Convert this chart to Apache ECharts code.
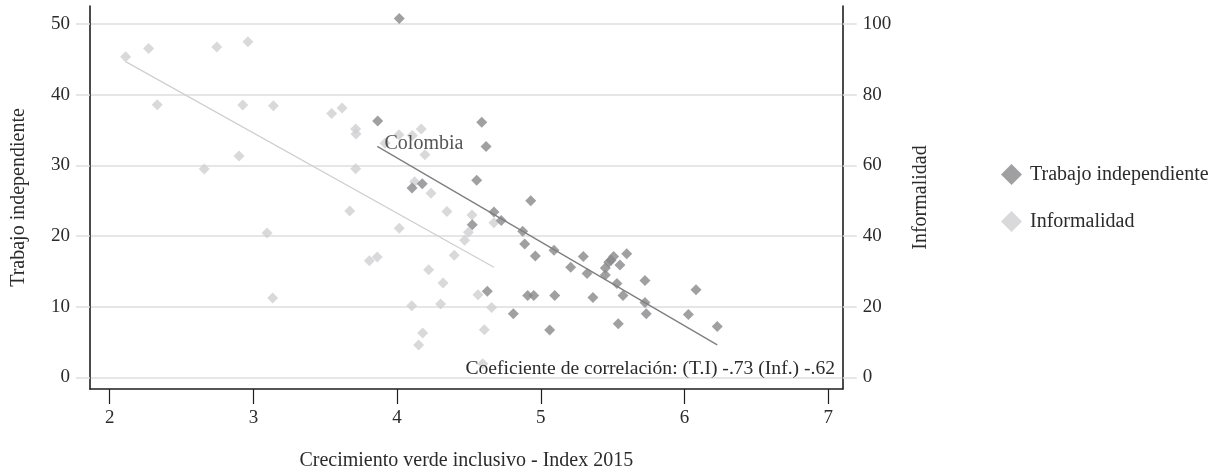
<!DOCTYPE html>
<html>
<head>
<meta charset="utf-8">
<script src="https://cdn.jsdelivr.net/npm/echarts@6/dist/echarts.min.js"></script>
<style>
  html, body { margin: 0; padding: 0; background: #fff; }
  #chart { width: 1232px; height: 476px; }
</style>
</head>
<body>
<div id="chart"></div>
<script>
// Índice de crecimiento verde inclusivo (x) frente a trabajo independiente e informalidad
const xTicks = [2, 3, 4, 5, 6, 7];
const leftTicks = [0, 10, 20, 30, 40, 50];
const rightTicks = [0, 20, 40, 60, 80, 100];

// Trabajo independiente: [índice, %]
const trabajoIndependiente = [
  [3.865, 36.3], [4.015, 50.8], [4.104, 26.8], [4.175, 27.4], [4.554, 27.9],
  [4.589, 36.1], [4.619, 32.7], [4.523, 21.6], [4.628, 12.2], [4.674, 23.4],
  [4.725, 22.2], [4.809, 9.0], [4.874, 20.7], [4.888, 18.9], [4.909, 11.6],
  [4.930, 25.0], [4.951, 11.6], [4.962, 17.2], [5.062, 6.7], [5.092, 18.0],
  [5.097, 11.6], [5.208, 15.6], [5.296, 17.1], [5.322, 14.7], [5.363, 11.3],
  [5.449, 15.5], [5.449, 14.5], [5.473, 16.3], [5.489, 16.6], [5.507, 17.1],
  [5.530, 13.3], [5.539, 7.6], [5.551, 15.9], [5.572, 11.6], [5.598, 17.5],
  [5.725, 13.7], [5.725, 10.6], [5.734, 9.0], [6.027, 8.9], [6.080, 12.4],
  [6.228, 7.2]
];

// Informalidad: [índice, %]
const informalidad = [
  [2.111, 90.8], [2.271, 93.1], [2.745, 93.5], [2.962, 95.0], [2.331, 77.2],
  [2.926, 77.1], [3.139, 76.9], [3.545, 74.7], [3.617, 76.3], [3.712, 70.3],
  [3.714, 68.9], [2.900, 62.7], [2.658, 59.0], [3.712, 59.1], [3.670, 47.1],
  [3.095, 40.9], [3.807, 33.0], [3.862, 34.1], [3.134, 22.5], [4.013, 68.7],
  [4.106, 68.5], [4.168, 70.3], [4.194, 63.0], [4.122, 55.4], [4.236, 52.1],
  [4.347, 47.0], [4.521, 46.0], [4.496, 41.1], [4.470, 38.8], [4.674, 43.8],
  [4.015, 42.2], [4.398, 34.6], [4.220, 30.5], [4.320, 26.7], [4.102, 20.3],
  [4.303, 20.8], [4.563, 23.4], [4.658, 19.8], [4.178, 12.6], [4.150, 9.2],
  [4.607, 13.5], [4.596, 3.9]
];

// Punto etiquetado
const colombiaName = 'Colombia';
const colombiaInformalidad = [3.916, 66.3];

// Rectas de ajuste lineal (extremos)
const ajusteTrabajo = [[3.862, 32.7], [6.228, 4.6]];
const ajusteInformalidad = [[2.111, 89.4], [4.674, 31.2]];

const correlacionTexto = 'Coeficiente de correlación: (T.I) -.73 (Inf.) -.62';

const FONT = '"Liberation Serif", "DejaVu Serif", serif';
const TEXT = '#2b2b2b';
const DARK = '#88888c';
const LIGHT = '#d0d0d2';
const GRID = '#dedede';

const chart = echarts.init(document.getElementById('chart'), null, { renderer: 'canvas' });

const informalidadData = informalidad.map(p => p.slice());
informalidadData.push({
  value: colombiaInformalidad,
  label: {
    show: true,
    formatter: colombiaName,
    position: [5, 6.5],
    align: 'left',
    verticalAlign: 'middle',
    color: TEXT,
    fontFamily: FONT,
    fontSize: 20
  }
});

chart.setOption({
  animation: false,
  backgroundColor: '#fff',
  textStyle: { fontFamily: FONT },
  grid: { left: 90, right: 389.3, top: 6, bottom: 86.7, containLabel: false },
  legend: {
    orient: 'vertical',
    left: 996,
    top: 159,
    itemWidth: 21,
    itemHeight: 21,
    itemGap: 26,
    icon: 'diamond',
    data: ['Trabajo independiente', 'Informalidad'],
    textStyle: { fontFamily: FONT, fontSize: 20, color: TEXT, padding: [0, 0, 0, 3] }
  },
  xAxis: {
    type: 'value',
    min: 1.863,
    max: 7.101,
    name: 'Crecimiento verde inclusivo - Index 2015',
    nameLocation: 'middle',
    nameGap: 62,
    nameTextStyle: { fontFamily: FONT, fontSize: 20, color: TEXT },
    axisLine: { show: true, onZero: false, lineStyle: { color: '#1e1e1e', width: 1.6 } },
    axisTick: { show: true, length: 15, customValues: xTicks, lineStyle: { color: '#1e1e1e', width: 1.2 } },
    axisLabel: { customValues: xTicks, margin: 20, fontFamily: FONT, fontSize: 19, color: TEXT },
    splitLine: { show: false }
  },
  yAxis: [
    {
      type: 'value',
      position: 'left',
      min: -1.64,
      max: 52.57,
      name: 'Trabajo independiente',
      nameLocation: 'middle',
      nameGap: 61,
      nameTextStyle: { fontFamily: FONT, fontSize: 20, color: TEXT },
      axisLine: { show: true, onZero: false, lineStyle: { color: '#1e1e1e', width: 1.6 } },
      axisTick: { show: true, length: 14, customValues: leftTicks, lineStyle: { color: GRID, width: 1.5 } },
      axisLabel: { customValues: leftTicks, margin: 20, fontFamily: FONT, fontSize: 19, color: TEXT },
      splitLine: { show: true, lineStyle: { color: GRID, width: 1.5 } }
    },
    {
      type: 'value',
      position: 'right',
      min: -3.28,
      max: 105.14,
      name: 'Informalidad',
      nameLocation: 'middle',
      nameGap: 68,
      nameTextStyle: { fontFamily: FONT, fontSize: 20, color: TEXT },
      axisLine: { show: true, onZero: false, lineStyle: { color: '#1e1e1e', width: 1.6 } },
      axisTick: { show: true, length: 14, customValues: rightTicks, lineStyle: { color: GRID, width: 1.5 } },
      axisLabel: { customValues: rightTicks, margin: 20, fontFamily: FONT, fontSize: 19, color: TEXT },
      splitLine: { show: false }
    }
  ],
  graphic: [
    {
      type: 'text',
      x: 835,
      y: 369,
      z: 100,
      style: {
        text: correlacionTexto,
        font: '19.6px "Liberation Serif", "DejaVu Serif", serif',
        fill: TEXT,
        align: 'right',
        verticalAlign: 'middle'
      }
    }
  ],
  series: [
    {
      name: 'Informalidad',
      type: 'scatter',
      yAxisIndex: 1,
      symbol: 'diamond',
      symbolSize: 11,
      itemStyle: { color: LIGHT },
      data: informalidadData,
      z: 2
    },
    {
      name: 'Trabajo independiente',
      type: 'scatter',
      yAxisIndex: 0,
      symbol: 'diamond',
      symbolSize: 11,
      itemStyle: { color: DARK },
      data: trabajoIndependiente,
      z: 3
    },
    {
      name: 'Ajuste informalidad',
      type: 'line',
      yAxisIndex: 1,
      data: ajusteInformalidad,
      showSymbol: false,
      symbol: 'none',
      lineStyle: { color: '#cfcfcf', width: 1.3 },
      silent: true,
      z: 4
    },
    {
      name: 'Ajuste trabajo',
      type: 'line',
      yAxisIndex: 0,
      data: ajusteTrabajo,
      showSymbol: false,
      symbol: 'none',
      lineStyle: { color: '#7e7e7e', width: 1.3 },
      silent: true,
      z: 4
    }
  ]
});
</script>
</body>
</html>
